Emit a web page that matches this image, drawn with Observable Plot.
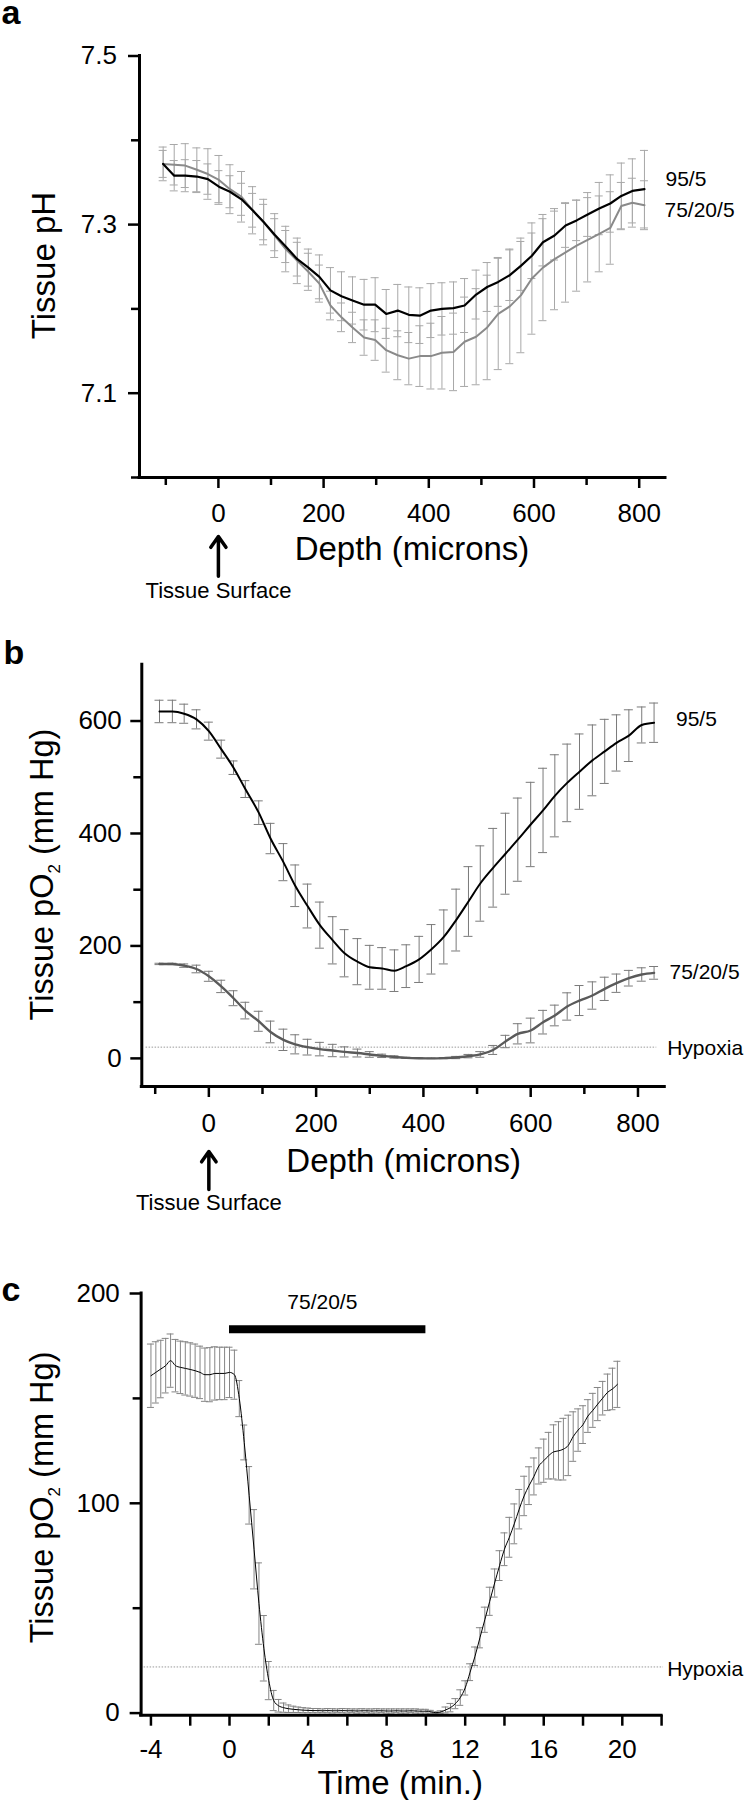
<!DOCTYPE html>
<html>
<head>
<meta charset="utf-8">
<script src="https://cdn.jsdelivr.net/npm/d3@7"></script>
<script src="https://cdn.jsdelivr.net/npm/@observablehq/plot@0.6"></script>
<style>
html,body{margin:0;padding:0;background:#fff;}
#root{position:relative;width:746px;height:1800px;overflow:hidden;background:#fff;}
#root svg{position:absolute;left:0;}
</style>
</head>
<body>
<div id="root"></div>
<script>
// ---------- Panel a : tissue pH vs depth ----------
const depthA = [-105, -84, -63, -41, -20, 1, 22, 44, 65, 86, 107, 128, 150, 171, 192, 213, 234, 255, 277, 298, 319, 341, 362, 383, 404, 425, 447, 468, 490, 511, 532, 554, 575, 596, 617, 639, 660, 681, 702, 724, 745, 766, 787, 810];
const phA_95 = [7.372, 7.358, 7.358, 7.357, 7.354, 7.345, 7.339, 7.330, 7.317, 7.303, 7.288, 7.274, 7.259, 7.249, 7.238, 7.222, 7.215, 7.210, 7.205, 7.205, 7.194, 7.198, 7.193, 7.192, 7.198, 7.200, 7.201, 7.204, 7.217, 7.226, 7.232, 7.240, 7.251, 7.263, 7.279, 7.287, 7.299, 7.305, 7.312, 7.319, 7.325, 7.334, 7.340, 7.342];
const errA_95 = [0.016, 0.018, 0.019, 0.019, 0.018, 0.019, 0.019, 0.019, 0.020, 0.021, 0.019, 0.019, 0.020, 0.022, 0.026, 0.027, 0.029, 0.028, 0.030, 0.032, 0.029, 0.031, 0.033, 0.033, 0.032, 0.031, 0.031, 0.032, 0.029, 0.029, 0.029, 0.030, 0.029, 0.027, 0.028, 0.029, 0.026, 0.024, 0.026, 0.031, 0.034, 0.039, 0.038, 0.046];
const phA_75 = [7.372, 7.371, 7.370, 7.365, 7.360, 7.353, 7.342, 7.333, 7.317, 7.303, 7.287, 7.271, 7.257, 7.244, 7.230, 7.204, 7.190, 7.178, 7.166, 7.163, 7.151, 7.145, 7.141, 7.144, 7.144, 7.148, 7.149, 7.161, 7.167, 7.178, 7.194, 7.203, 7.216, 7.236, 7.249, 7.259, 7.267, 7.275, 7.282, 7.289, 7.296, 7.322, 7.326, 7.323];
const errA_75 = [0.020, 0.024, 0.026, 0.026, 0.030, 0.029, 0.029, 0.030, 0.028, 0.027, 0.026, 0.027, 0.027, 0.022, 0.022, 0.017, 0.017, 0.018, 0.021, 0.024, 0.026, 0.029, 0.031, 0.036, 0.039, 0.043, 0.046, 0.053, 0.057, 0.062, 0.066, 0.068, 0.068, 0.066, 0.063, 0.060, 0.059, 0.054, 0.050, 0.045, 0.043, 0.028, 0.029, 0.029];
const ticksA_y = [7.1, 7.3, 7.5];
const minorA_y = [7.0, 7.2, 7.4];
const ticksA_x = [0, 200, 400, 600, 800];
const minorA_x = [-100, 100, 300, 500, 700];

// ---------- Panel b : tissue pO2 vs depth ----------
const depthB = [-92, -68, -46, -23, 0, 23, 46, 68, 93, 115, 139, 161, 184, 207, 231, 253, 277, 300, 323, 346, 368, 392, 415, 438, 461, 484, 506, 530, 553, 576, 600, 623, 645, 668, 691, 715, 738, 760, 783, 807, 830];
const po2B_95 = [617, 617, 613, 603, 582, 550, 517, 479, 437, 391, 349, 307, 271, 237, 210, 187, 172, 162, 160, 156, 164, 176, 194, 216, 246, 279, 311, 339, 364, 389, 416, 441, 467, 490, 510, 530, 546, 561, 574, 593, 597];
const errB_95 = [20, 20, 17, 17, 16, 16, 12, 15, 21, 27, 33, 37, 39, 41, 42, 42, 41, 39, 37, 37, 38, 41, 44, 48, 55, 62, 67, 70, 72, 74, 75, 75, 73, 69, 67, 63, 57, 50, 46, 32, 35];
const po2B_75 = [168, 168, 165, 159, 146, 128, 107, 85, 66, 47, 33, 25, 20, 16.5, 14, 11.5, 9.5, 7, 4.5, 2.5, 1, 0.2, 0, 0.5, 1.5, 4, 7, 15, 30, 43.7, 49.6, 64.4, 76.3, 92.3, 102.9, 111.8, 123.7, 133.7, 142.6, 149.2, 152.1];
const errB_75 = [1.2, 1.2, 3, 6.8, 8.9, 11, 13.3, 14.8, 17.8, 19.3, 19, 17, 14, 12, 11, 9, 7, 5, 3, 2, 1, 0.5, 0.5, 1, 2, 3, 5, 8, 11, 18, 22, 21, 18.4, 24.3, 26.7, 24.3, 20.7, 16.3, 13.9, 11.9, 11.3];
const ticksB_y = [0, 200, 400, 600];
const minorB_y = [100, 300, 500];
const ticksB_x = [0, 200, 400, 600, 800];
const minorB_x = [-100, 100, 300, 500, 700];
const hypoxiaB = 20;

// ---------- Panel c : tissue pO2 vs time ----------
const timeC = [-4, -3.75, -3.5, -3.25, -3, -2.75, -2.5, -2.25, -2, -1.75, -1.5, -1.25, -1, -0.75, -0.5, -0.25, 0, 0.25, 0.5, 0.75, 1, 1.25, 1.5, 1.75, 2, 2.25, 2.5, 2.75, 3, 3.25, 3.5, 3.75, 4, 4.25, 4.5, 4.75, 5, 5.25, 5.5, 5.75, 6, 6.25, 6.5, 6.75, 7, 7.25, 7.5, 7.75, 8, 8.25, 8.5, 8.75, 9, 9.25, 9.5, 9.75, 10, 10.25, 10.5, 10.75, 11, 11.25, 11.5, 11.75, 12, 12.25, 12.5, 12.75, 13, 13.25, 13.5, 13.75, 14, 14.25, 14.5, 14.75, 15, 15.25, 15.5, 15.75, 16, 16.25, 16.5, 16.75, 17, 17.25, 17.5, 17.75, 18, 18.25, 18.5, 18.75, 19, 19.25, 19.5, 19.75];
const po2C = [160.8, 162.4, 164.0, 165.6, 168.0, 165.6, 164.8, 164.3, 163.8, 163.2, 162.4, 161.3, 161.3, 161.9, 161.9, 161.9, 162.4, 161.3,
  149.9, 129.0, 103.8, 78.1, 52.2, 30.9, 15.5, 6.0,
  3.5, 2.6, 2.1, 1.8, 1.6, 1.4, 1.3,
  1.2, 1.2, 1.1, 1.2, 1.1, 1.1, 1.2, 1.1, 1.1, 1.0, 1.1, 1.1, 1.0, 1.1, 1.1, 1.0, 1.0, 1.1, 1.0, 1.0, 1.1, 1.0, 0.9,
  0.9, 0.6, 0.2, 0.5, 1.5, 2.6, 4.5, 7.4,
  12.0, 19.5, 27.1, 35.9, 44.5, 53.3, 62.0, 70.3, 78.1, 83.8, 90.2, 97.2, 103.5, 108.4, 112.8, 117.8,
  120.3, 122.7, 124.5, 125.0, 125.8, 127.6, 131.8, 134.9, 137.5, 141.6, 144.3, 147.3, 150.1, 152.9, 154.5, 156.7];
const errC = [15.1, 14.6, 13.7, 13.0, 12.7, 12.5, 12.5, 12.7, 12.7, 12.7, 12.5, 12.7, 12.9, 12.7, 12.5, 12.5, 12.0, 11.7,
  8.6, 8.3, 13.7, 18.9, 19.4, 15.6, 9.1, 4.8,
  3.0, 2.2, 1.8, 1.5, 1.3, 1.2, 1.1,
  1.0, 1.0, 0.9, 1.0, 1.0, 0.9, 1.0, 1.0, 0.9, 1.0, 1.0, 0.9, 1.0, 1.0, 0.9, 1.0, 1.0, 0.9, 1.0, 1.0, 0.9, 1.0, 0.9,
  0.9, 0.7, 0.4, 0.6, 1.4, 2.0, 2.4, 3.7,
  3.4, 4.0, 4.4, 4.8, 6.0, 6.7, 6.7, 7.1, 7.8, 9.5, 9.5, 9.4, 9.4, 9.0, 8.8, 8.6,
  10.3, 11.1, 12.9, 13.9, 14.7, 14.4, 11.8, 10.1, 9.0, 7.8, 8.1, 7.9, 8.0, 8.7, 9.9, 11.0];
const ticksC_y = [0, 100, 200];
const minorC_y = [50, 150];
const ticksC_x = [-4, 0, 4, 8, 12, 16, 20];
const minorC_x = [-2, 2, 6, 10, 14, 18, 22];
const hypoxiaC = 22;
const gasBarC = {start: 0, end: 10, level: 183, label: "75/20/5"};

// ---------- helpers ----------
const FONT = '"Liberation Sans", Arial, Helvetica, sans-serif';
const INK = "#000";

function frameText(str, x, y, m, o = {}) {
  return Plot.text([str], {
    text: d => d, frameAnchor: "top-left",
    dx: x - m.left, dy: y - m.top,
    lineAnchor: "bottom", textAnchor: "start",
    fontSize: 21, fill: INK, ...o
  });
}

function errorBars(rows, stroke, cap) {
  const lo = d => d.v - d.e, hi = d => d.v + d.e;
  return [
    Plot.ruleX(rows, {x: "x", y1: lo, y2: hi, stroke, strokeWidth: 1}),
    Plot.ruleY(rows, {x1: "x", x2: "x", y: lo, insetLeft: -cap, insetRight: -cap, stroke, strokeWidth: 1}),
    Plot.ruleY(rows, {x1: "x", x2: "x", y: hi, insetLeft: -cap, insetRight: -cap, stroke, strokeWidth: 1})
  ];
}

function axisMarks(c) {
  return [
    Plot.axisY(c.yMajor, {tickSize: 11, tickPadding: c.yPad, fontSize: 26, strokeWidth: 2.5, tickFormat: c.yFmt, label: null}),
    Plot.axisY(c.yMinor, {tickSize: c.yMinorSize, strokeWidth: 2.5, fill: "none", label: null}),
    Plot.axisX(c.xMajor, {tickSize: 11, tickPadding: c.xPad, fontSize: 26, strokeWidth: 2.5, tickFormat: c.xFmt, label: null}),
    Plot.axisX(c.xMinor, {tickSize: c.xMinorSize, strokeWidth: 2.5, fill: "none", label: null}),
    Plot.ruleX([c.xDomain[0]], {y1: c.yDomain[0], y2: c.yDomain[1], stroke: INK, strokeWidth: 3, strokeLinecap: "square"}),
    Plot.ruleY([c.yDomain[0]], {x1: c.xDomain[0], x2: c.xDomain[1], stroke: INK, strokeWidth: 3, strokeLinecap: "square"})
  ];
}

function subLabel(svg, x, y) {
  const t = d3.select(svg).append("text")
    .attr("transform", `translate(${x},${y}) rotate(-90)`)
    .attr("text-anchor", "middle")
    .attr("font-family", FONT)
    .attr("font-size", 32.5)
    .attr("fill", INK);
  t.append("tspan").text("Tissue pO");
  t.append("tspan").attr("font-size", 17).attr("dy", 6.5).text("2");
  t.append("tspan").attr("dy", -6.5).text(" (mm Hg)");
}

const baseStyle = {fontFamily: FONT, overflow: "visible", color: INK, background: "transparent"};
const root = document.getElementById("root");

// ---------- Panel a ----------
const mA = {top: 55.5, right: 81, bottom: 123, left: 139};
const xDomA = [-150, 850], yDomA = [7.0, 7.5];
const rowsA95 = depthA.map((x, i) => ({x, v: phA_95[i], e: errA_95[i]}));
const rowsA75 = depthA.map((x, i) => ({x, v: phA_75[i], e: errA_75[i]}));
const plotA = Plot.plot({
  width: 746, height: 600,
  marginTop: mA.top, marginRight: mA.right, marginBottom: mA.bottom, marginLeft: mA.left,
  style: baseStyle,
  x: {domain: xDomA},
  y: {domain: yDomA},
  marks: [
    ...errorBars(rowsA75, "#a8a8a8", 4),
    ...errorBars(rowsA95, "#a8a8a8", 4),
    Plot.line(rowsA75, {x: "x", y: "v", stroke: "#8a8a8a", strokeWidth: 2}),
    Plot.line(rowsA95, {x: "x", y: "v", stroke: INK, strokeWidth: 2.2}),
    ...axisMarks({xDomain: xDomA, yDomain: yDomA, xMajor: ticksA_x, xMinor: minorA_x, yMajor: ticksA_y, yMinor: minorA_y,
      xPad: 15, yPad: 11.5, xFmt: d => String(d), yFmt: d => d.toFixed(1), xMinorSize: 8, yMinorSize: 8}),
    frameText("a", 1, 23, mA, {fontSize: 34, fontWeight: "bold"}),
    frameText("Tissue pH", 54.5, 265, mA, {fontSize: 33, rotate: -90, textAnchor: "middle"}),
    frameText("Depth (microns)", 411.5, 559, mA, {fontSize: 33, textAnchor: "middle"}),
    frameText("95/5", 665, 185, mA),
    frameText("75/20/5", 664, 216, mA),
    Plot.arrow([0], {x1: d => d, x2: d => d, y1: 6.883, y2: 6.930, stroke: INK, strokeWidth: 3.5, headLength: 24, headAngle: 70}),
    frameText("Tissue Surface", 218, 597, mA, {fontSize: 22, textAnchor: "middle"})
  ]
});
plotA.style.top = "0px";
root.appendChild(plotA);

// ---------- Panel b ----------
const mB = {top: 64.3, right: 81.7, bottom: 114, left: 141.3};
const xDomB = [-125, 850], yDomB = [-50, 700];
const rowsB95 = depthB.map((x, i) => ({x, v: po2B_95[i], e: errB_95[i]}));
const rowsB75 = depthB.map((x, i) => ({x, v: po2B_75[i], e: errB_75[i]}));
const plotB = Plot.plot({
  width: 746, height: 600,
  marginTop: mB.top, marginRight: mB.right, marginBottom: mB.bottom, marginLeft: mB.left,
  style: baseStyle,
  x: {domain: xDomB},
  y: {domain: yDomB},
  marks: [
    Plot.ruleY([hypoxiaB], {x1: -117, x2: 835, stroke: "#9a9a9a", strokeWidth: 1, strokeDasharray: "1.5 1.5"}),
    ...errorBars(rowsB75, "#7a7a7a", 4.5),
    ...errorBars(rowsB95, "#7a7a7a", 4.5),
    Plot.line(rowsB75, {x: "x", y: "v", stroke: "#5a5a5a", strokeWidth: 2.4, curve: "monotone-x"}),
    Plot.line(rowsB95, {x: "x", y: "v", stroke: INK, strokeWidth: 2, curve: "monotone-x"}),
    ...axisMarks({xDomain: xDomB, yDomain: yDomB, xMajor: ticksB_x, xMinor: minorB_x, yMajor: ticksB_y, yMinor: minorB_y,
      xPad: 15.8, yPad: 9, xFmt: d => String(d), yFmt: d => String(d), xMinorSize: 8, yMinorSize: 8}),
    frameText("b", 3, 63, mB, {fontSize: 34, fontWeight: "bold"}),
    frameText("Depth (microns)", 403.2, 571.2, mB, {fontSize: 33, textAnchor: "middle"}),
    frameText("95/5", 675.5, 125, mB),
    frameText("75/20/5", 669, 378, mB),
    frameText("Hypoxia", 666.7, 454, mB),
    Plot.arrow([0], {x1: d => d, x2: d => d, y1: -233, y2: -165.6, stroke: INK, strokeWidth: 3.5, headLength: 24, headAngle: 70}),
    frameText("Tissue Surface", 208.4, 609.5, mB, {fontSize: 22, textAnchor: "middle"})
  ]
});
subLabel(plotB, 53, 274.6);
plotB.style.top = "600px";
root.appendChild(plotB);

// ---------- Panel c ----------
const mC = {top: 93, right: 84.92, bottom: 85.3, left: 140.62};
const xDomC = [-4.5, 22], yDomC = [-1, 200];
const rowsC = timeC.map((x, i) => ({x, v: po2C[i], e: errC[i]}));
const plotC = Plot.plot({
  width: 746, height: 600,
  marginTop: mC.top, marginRight: mC.right, marginBottom: mC.bottom, marginLeft: mC.left,
  style: baseStyle,
  x: {domain: xDomC},
  y: {domain: yDomC},
  marks: [
    Plot.ruleY([hypoxiaC], {x1: -4.5, x2: 22.1, stroke: "#9a9a9a", strokeWidth: 1, strokeDasharray: "1.5 1.5"}),
    ...errorBars(rowsC, "#858585", 3.5),
    Plot.line(rowsC, {x: "x", y: "v", stroke: INK, strokeWidth: 1, curve: "monotone-x"}),
    Plot.ruleY([gasBarC.level], {x1: gasBarC.start, x2: gasBarC.end, stroke: INK, strokeWidth: 8}),
    ...axisMarks({xDomain: xDomC, yDomain: yDomC, xMajor: ticksC_x, xMinor: minorC_x, yMajor: ticksC_y, yMinor: minorC_y,
      xPad: 13.7, yPad: 10.3, xFmt: d => String(d), yFmt: d => String(d), xMinorSize: 11, yMinorSize: 8}),
    frameText("c", 1, 100, mC, {fontSize: 34, fontWeight: "bold"}),
    frameText(gasBarC.label, 321.8, 108.3, mC, {textAnchor: "middle"}),
    frameText("Hypoxia", 666.7, 475, mC),
    frameText("Time (min.)", 399.7, 593.6, mC, {fontSize: 33, textAnchor: "middle"})
  ]
});
subLabel(plotC, 53, 297.4);
plotC.style.top = "1200px";
root.appendChild(plotC);
</script>
</body>
</html>
